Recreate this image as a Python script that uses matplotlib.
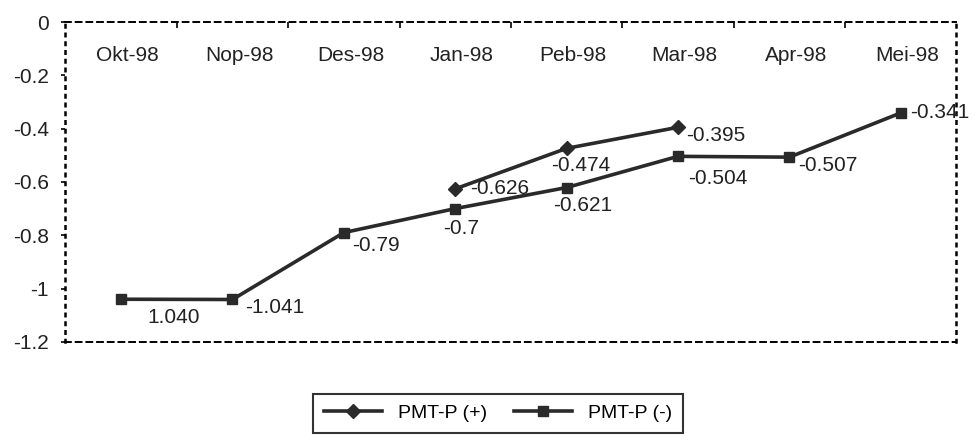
import matplotlib.pyplot as plt
import numpy as np

plt.rcParams['font.family'] = ['Liberation Sans', 'DejaVu Sans']

months = ['Okt-98', 'Nop-98', 'Des-98', 'Jan-98', 'Peb-98', 'Mar-98', 'Apr-98', 'Mei-98']
pmt_plus = [np.nan, np.nan, np.nan, -0.626, -0.474, -0.395, np.nan, np.nan]
pmt_minus = [-1.040, -1.041, -0.79, -0.7, -0.621, -0.504, -0.507, -0.341]
plus_labels = ['', '', '', '-0.626', '-0.474', '-0.395', '', '']
minus_labels = ['1.040', '-1.041', '-0.79', '-0.7', '-0.621', '-0.504', '-0.507', '-0.341']
yticks = [0, -0.2, -0.4, -0.6, -0.8, -1, -1.2]
ytick_labels = ['0', '-0.2', '-0.4', '-0.6', '-0.8', '-1', '-1.2']

# label offsets in points (dx, dy), by hand to match
plus_off = [None, None, None, (11, 0), (-11, -12), (6, -6), None, None]
minus_off = [(19, -13), (9, -6), (6, -9), (-9, -14), (-10, -13), (7, -16), (6, -6), (7, 0)]

fig = plt.figure(figsize=(9.76, 4.4), dpi=100)
ax = fig.add_axes([0.067, 0.223, 0.913, 0.727])

x = np.arange(len(months))
ink = '#2a2a2a'
ax.plot(x, pmt_plus, color=ink, lw=2.6, marker='D', ms=7, label='PMT-P (+)')
ax.plot(x, pmt_minus, color=ink, lw=2.6, marker='s', ms=7, label='PMT-P (-)')

fs = 15
for i in range(len(months)):
    if plus_off[i] is not None:
        ax.annotate(plus_labels[i], (x[i], pmt_plus[i]), xytext=plus_off[i],
                    textcoords='offset points', fontsize=fs, color='#222222',
                    va='center', ha='left')
    ax.annotate(minus_labels[i], (x[i], pmt_minus[i]), xytext=minus_off[i],
                textcoords='offset points', fontsize=fs, color='#222222',
                va='center', ha='left')

ax.set_xlim(-0.5, len(months) - 0.5)
ax.set_ylim(-1.2, 0)

# month names just under the top edge
for i, m in enumerate(months):
    ax.text(x[i] + 0.06, -0.124, m, ha='center', va='center', fontsize=fs, color='#222222')

ax.set_xticks(np.arange(0.5, len(months) - 0.5, 1))
ax.xaxis.tick_top()
ax.tick_params(axis='x', direction='in', length=4, width=1.2, labeltop=False)
ax.set_yticks(yticks)
ax.set_yticklabels(ytick_labels, fontsize=fs, color='#222222')
ax.tick_params(axis='y', direction='out', length=3, width=1.2, pad=9)

for side in ['top', 'bottom']:
    ax.spines[side].set_linestyle((0, (3, 2.5)))
    ax.spines[side].set_linewidth(1.4)
for side in ['left', 'right']:
    ax.spines[side].set_linestyle((0, (1, 2.5)))
    ax.spines[side].set_linewidth(1.8)

leg = fig.legend(loc='center', bbox_to_anchor=(0.51, 0.061), ncol=2, fontsize=14,
                 frameon=True, fancybox=False, edgecolor='black', handlelength=3,
                 borderpad=0.55, columnspacing=1.4)
leg.get_frame().set_linewidth(1.5)

fig.savefig('out.png', dpi=100)
